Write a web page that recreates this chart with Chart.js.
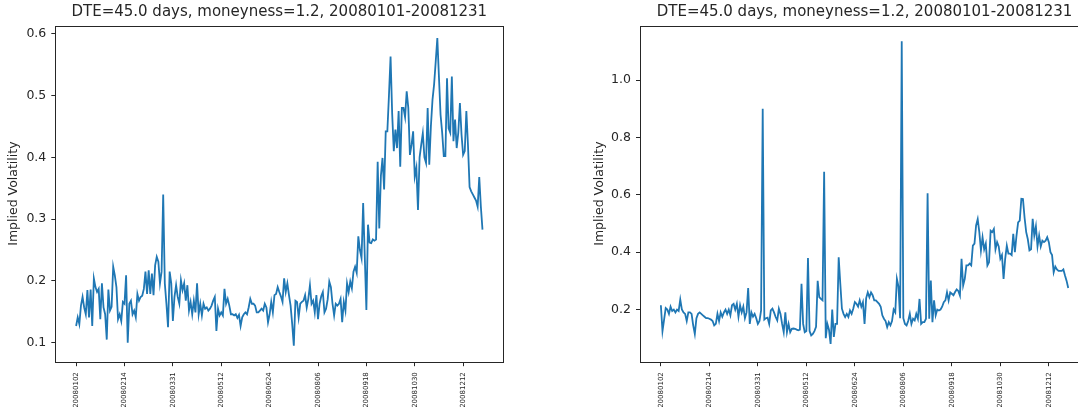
<!DOCTYPE html>
<html>
<head>
<meta charset="utf-8">
<script src="https://cdn.jsdelivr.net/npm/chart.js@4.4.1/dist/chart.umd.min.js"></script>
<style>
  html, body { margin: 0; padding: 0; background: #fff; }
  #wrap { position: relative; width: 1078px; height: 407px; overflow: hidden; }
  canvas { position: absolute; top: 0; }
  #chartLeft { left: 0; }
  #chartRight { left: 540px; }
</style>
</head>
<body>
<div id="wrap">
  <canvas id="chartLeft" width="540" height="407"></canvas>
  <canvas id="chartRight" width="560" height="407"></canvas>
</div>
<script>
// data, satu nilai per hari bursa (253 hari)
const titleText = 'DTE=45.0 days, moneyness=1.2, 20080101-20081231';
const yLabel = 'Implied Volatility';
const tickLabels = ['20080102', '20080214', '20080331', '20080512', '20080624', '20080806', '20080918', '20081030', '20081212'];
const tickStep = 30;
const leftYTicks = [0.1, 0.2, 0.3, 0.4, 0.5, 0.6];
const rightYTicks = [0.2, 0.4, 0.6, 0.8, 1.0];

const ivLeft = [
  0.127, 0.141, 0.13, 0.16, 0.174, 0.157, 0.146, 0.185, 0.141, 0.186,
  0.127, 0.204, 0.19, 0.182, 0.187, 0.138, 0.196, 0.157, 0.146, 0.105,
  0.186, 0.152, 0.158, 0.223, 0.209, 0.19, 0.138, 0.146, 0.135, 0.166,
  0.163, 0.209, 0.1, 0.163, 0.168, 0.146, 0.152, 0.141, 0.179, 0.168,
  0.174, 0.176, 0.187, 0.215, 0.179, 0.217, 0.179, 0.212, 0.177, 0.225,
  0.239, 0.231, 0.196, 0.215, 0.34, 0.196, 0.163, 0.125, 0.215, 0.196,
  0.135, 0.174, 0.193, 0.174, 0.163, 0.201, 0.185, 0.196, 0.168, 0.193,
  0.152, 0.166, 0.146, 0.168, 0.149, 0.196, 0.146, 0.163, 0.144, 0.163,
  0.155, 0.157, 0.152, 0.155, 0.16, 0.168, 0.174, 0.119, 0.155, 0.144,
  0.149, 0.144, 0.187, 0.163, 0.171, 0.16, 0.146, 0.146, 0.144, 0.146,
  0.14, 0.145, 0.127, 0.141, 0.146, 0.149, 0.146, 0.157, 0.171, 0.163,
  0.163, 0.16, 0.149, 0.149, 0.152, 0.155, 0.152, 0.163, 0.157, 0.133,
  0.146, 0.166, 0.149, 0.177, 0.179, 0.19, 0.182, 0.175, 0.166, 0.204,
  0.182, 0.196, 0.177, 0.16, 0.13, 0.095, 0.168, 0.166, 0.141, 0.163,
  0.166, 0.168, 0.177, 0.157, 0.171, 0.193, 0.163, 0.168, 0.149, 0.177,
  0.138, 0.163, 0.175, 0.182, 0.149, 0.155, 0.17, 0.199, 0.19, 0.163,
  0.144, 0.163, 0.16, 0.163, 0.171, 0.133, 0.166, 0.152, 0.196, 0.182,
  0.199, 0.188, 0.215, 0.223, 0.213, 0.272, 0.25, 0.237, 0.326, 0.24,
  0.153, 0.291, 0.262, 0.261, 0.267, 0.265, 0.267, 0.393, 0.285, 0.37,
  0.399, 0.348, 0.442, 0.442, 0.5, 0.563, 0.47, 0.41, 0.445, 0.415,
  0.475, 0.385, 0.48, 0.48, 0.465, 0.507, 0.48, 0.404, 0.42, 0.442,
  0.369, 0.383, 0.315, 0.4, 0.42, 0.439, 0.4, 0.391, 0.48, 0.388,
  0.45, 0.493, 0.518, 0.555, 0.593, 0.53, 0.469, 0.44, 0.402, 0.402,
  0.528, 0.447, 0.44, 0.531, 0.426, 0.461, 0.415, 0.44, 0.488, 0.437,
  0.404, 0.41, 0.475, 0.42, 0.352, 0.345, 0.34, 0.335, 0.33, 0.32,
  0.368, 0.32, 0.283
];

const ivRight = [
  0.215, 0.125, 0.165, 0.205, 0.2, 0.185, 0.21, 0.195, 0.2, 0.19,
  0.2, 0.195, 0.235, 0.2, 0.19, 0.185, 0.16, 0.19, 0.19, 0.185,
  0.145, 0.115, 0.17, 0.185, 0.19, 0.185, 0.18, 0.175, 0.17, 0.17,
  0.168, 0.165, 0.16, 0.145, 0.15, 0.185, 0.16, 0.19, 0.175, 0.19,
  0.2, 0.185, 0.2, 0.18, 0.215, 0.22, 0.2, 0.22, 0.175, 0.215,
  0.19, 0.21, 0.17, 0.19, 0.275, 0.15, 0.19, 0.175, 0.185, 0.17,
  0.15, 0.16, 0.197, 0.9, 0.165, 0.17, 0.172, 0.15, 0.197, 0.203,
  0.19, 0.174, 0.162, 0.203, 0.185, 0.15, 0.121, 0.19, 0.121, 0.15,
  0.121, 0.133, 0.134, 0.133, 0.13, 0.128, 0.13, 0.29, 0.15, 0.121,
  0.125, 0.38, 0.125, 0.11, 0.115, 0.125, 0.14, 0.3, 0.243, 0.237,
  0.232, 0.68, 0.1, 0.15, 0.13, 0.08, 0.2, 0.105, 0.15, 0.15,
  0.382, 0.29, 0.203, 0.185, 0.174, 0.185, 0.174, 0.197, 0.185, 0.203,
  0.226, 0.22, 0.21, 0.232, 0.21, 0.226, 0.15, 0.24, 0.26, 0.243,
  0.26, 0.25, 0.232, 0.232, 0.226, 0.22, 0.21, 0.18, 0.168, 0.16,
  0.139, 0.156, 0.145, 0.16, 0.2, 0.19, 0.307, 0.28, 0.17, 1.135,
  0.17, 0.15, 0.145, 0.16, 0.185, 0.15, 0.168, 0.162, 0.185, 0.168,
  0.237, 0.15, 0.156, 0.156, 0.168, 0.605, 0.168, 0.301, 0.156, 0.232,
  0.18, 0.2, 0.197, 0.2, 0.21, 0.226, 0.232, 0.26, 0.232, 0.26,
  0.255, 0.25, 0.261, 0.27, 0.265, 0.249, 0.377, 0.284, 0.307, 0.354,
  0.354, 0.36, 0.354, 0.423, 0.43, 0.493, 0.515, 0.47, 0.406, 0.452,
  0.41, 0.43, 0.354, 0.365, 0.475, 0.47, 0.481, 0.41, 0.435, 0.42,
  0.377, 0.39, 0.307, 0.377, 0.423, 0.395, 0.395, 0.39, 0.464, 0.4,
  0.458, 0.504, 0.51, 0.586, 0.585, 0.52, 0.47, 0.445, 0.406, 0.41,
  0.516, 0.458, 0.49, 0.42, 0.458, 0.42, 0.44, 0.435, 0.44, 0.452,
  0.435, 0.4, 0.39, 0.33, 0.35, 0.34, 0.335, 0.335, 0.335, 0.34,
  0.319, 0.3, 0.275
];

const textColor = '#262626';
const fontFamily = '"DejaVu Sans", sans-serif';

// kotak bingkai di sekeliling area plot (gaya matplotlib)
const framePlugin = {
  id: 'frame',
  afterDraw(chart) {
    const a = chart.chartArea;
    const ctx = chart.ctx;
    ctx.save();
    ctx.strokeStyle = textColor;
    ctx.lineWidth = 1;
    ctx.strokeRect(Math.round(a.left) - 0.5, Math.round(a.top) + 0.5,
      Math.round(a.right - a.left) + 1, Math.round(a.bottom - a.top));
    ctx.restore();
  }
};

function makeChart(id, values, yTicks, yMin, yMax, padLeft, padRight, yWidth) {
  const ctx = document.getElementById(id).getContext('2d');
  return new Chart(ctx, {
    type: 'line',
    data: {
      datasets: [{
        data: values.map((v, i) => ({ x: i, y: v })),
        borderColor: '#1f77b4',
        borderWidth: 1.8,
        pointRadius: 0,
        tension: 0,
        fill: false
      }]
    },
    options: {
      responsive: false,
      animation: false,
      devicePixelRatio: 1,
      layout: { padding: { left: padLeft, right: padRight, top: 0, bottom: 0 } },
      plugins: {
        legend: { display: false },
        tooltip: { enabled: false },
        title: {
          display: true,
          text: titleText,
          fullSize: false,
          color: textColor,
          font: { family: fontFamily, size: 15, weight: 'normal' },
          padding: { top: 3, bottom: 4.5 }
        }
      },
      scales: {
        x: {
          type: 'linear',
          min: -12.6,
          max: 264.6,
          afterBuildTicks: axis => {
            axis.ticks = tickLabels.map((_, k) => ({ value: k * tickStep }));
          },
          afterFit: scale => { scale.height = 45.3; },
          grid: { drawOnChartArea: false, drawTicks: true, tickLength: 4.5, tickColor: textColor },
          border: { display: false },
          ticks: {
            autoSkip: false,
            minRotation: 90,
            maxRotation: 90,
            padding: 6,
            color: textColor,
            font: { family: fontFamily, size: 7 },
            callback: v => tickLabels[Math.round(v / tickStep)] || ''
          }
        },
        y: {
          min: yMin,
          max: yMax,
          afterBuildTicks: axis => {
            axis.ticks = yTicks.map(v => ({ value: v }));
          },
          afterFit: scale => { scale.width = yWidth; },
          grid: { drawOnChartArea: false, drawTicks: true, tickLength: 4.5, tickColor: textColor },
          border: { display: false },
          title: {
            display: true,
            text: yLabel,
            color: textColor,
            font: { family: fontFamily, size: 12.5 },
            padding: { top: 6, bottom: 0 }
          },
          ticks: {
            padding: 5,
            color: textColor,
            font: { family: fontFamily, size: 12.5 },
            callback: v => v.toFixed(1)
          }
        }
      }
    },
    plugins: [framePlugin]
  });
}

document.addEventListener('DOMContentLoaded', function() {
  makeChart('chartLeft', ivLeft, leftYTicks, 0.0692, 0.6134, 0, 37.2, 55.8);
  makeChart('chartRight', ivRight, rightYTicks, 0.0183, 1.19, 46, 11.4, 54.5);
});
</script>
</body>
</html>
